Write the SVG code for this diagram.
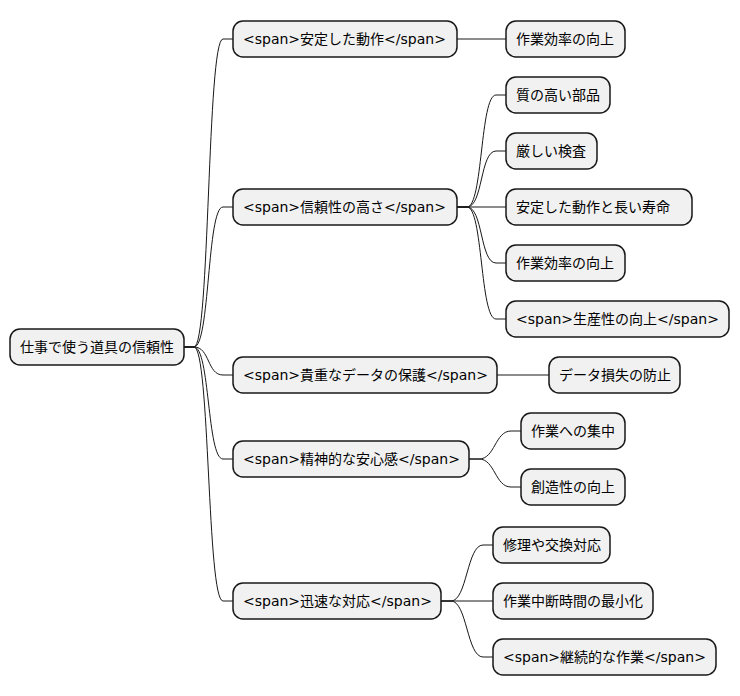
<svg xmlns="http://www.w3.org/2000/svg" width="740" height="696" viewBox="0 0 740 696">
<style>
.b{fill:#f1f1f1;stroke:#181818;stroke-width:1.5}
text{font-family:"DejaVu Sans","Noto Sans CJK JP",sans-serif;font-size:14px;fill:#000;dominant-baseline:central}
#c path{fill:none;stroke:#181818;stroke-width:1}
</style>
<rect width="740" height="696" fill="#ffffff"/>
<g id="c">
<path d="M184,347 H194 C210,347 207,39 223,39 H233"/>
<path d="M184,347 H194 C210,347 207,207 223,207 H233"/>
<path d="M184,347 H194 C210,347 207,375 223,375 H233"/>
<path d="M184,347 H194 C210,347 207,459 223,459 H233"/>
<path d="M184,347 H194 C210,347 207,601 223,601 H233"/>
<path d="M457,39 H506"/>
<path d="M457,207 H467 C483,207 480,95 496,95 H506"/>
<path d="M457,207 H467 C483,207 480,151 496,151 H506"/>
<path d="M457,207 H506"/>
<path d="M457,207 H467 C483,207 480,263 496,263 H506"/>
<path d="M457,207 H467 C483,207 480,319 496,319 H506"/>
<path d="M497,375 H549"/>
<path d="M469,459 H479 C495,459 495,431 511,431 H521"/>
<path d="M469,459 H479 C495,459 495,487 511,487 H521"/>
<path d="M441,601 H451 C467,601 467,545 483,545 H493"/>
<path d="M441,601 H493"/>
<path d="M441,601 H451 C467,601 467,657 483,657 H493"/>
</g>
<g id="root"><rect class="b" x="10" y="329" width="174" height="36" rx="10"/><text x="20" y="347">仕事で使う道具の信頼性</text></g>
<g id="n1"><rect class="b" x="233" y="21" width="224" height="36" rx="10"/><text x="243" y="39">&lt;span&gt;安定した動作&lt;/span&gt;</text></g>
<g id="n2"><rect class="b" x="233" y="189" width="224" height="36" rx="10"/><text x="243" y="207">&lt;span&gt;信頼性の高さ&lt;/span&gt;</text></g>
<g id="n3"><rect class="b" x="233" y="357" width="264" height="36" rx="10"/><text x="243" y="375">&lt;span&gt;貴重なデータの保護&lt;/span&gt;</text></g>
<g id="n4"><rect class="b" x="233" y="441" width="236" height="36" rx="10"/><text x="243" y="459">&lt;span&gt;精神的な安心感&lt;/span&gt;</text></g>
<g id="n5"><rect class="b" x="233" y="583" width="208" height="36" rx="10"/><text x="243" y="601">&lt;span&gt;迅速な対応&lt;/span&gt;</text></g>
<g id="n1a"><rect class="b" x="506" y="21" width="119" height="36" rx="10"/><text x="516" y="39">作業効率の向上</text></g>
<g id="n2a"><rect class="b" x="506" y="77" width="104" height="36" rx="10"/><text x="516" y="95">質の高い部品</text></g>
<g id="n2b"><rect class="b" x="506" y="133" width="91" height="36" rx="10"/><text x="516" y="151">厳しい検査</text></g>
<g id="n2c"><rect class="b" x="506" y="189" width="186" height="36" rx="10"/><text x="516" y="207">安定した動作と長い寿命</text></g>
<g id="n2d"><rect class="b" x="506" y="245" width="119" height="36" rx="10"/><text x="516" y="263">作業効率の向上</text></g>
<g id="n2e"><rect class="b" x="506" y="301" width="223" height="36" rx="10"/><text x="516" y="319">&lt;span&gt;生産性の向上&lt;/span&gt;</text></g>
<g id="n3a"><rect class="b" x="549" y="357" width="131" height="36" rx="10"/><text x="559" y="375">データ損失の防止</text></g>
<g id="n4a"><rect class="b" x="521" y="413" width="104" height="36" rx="10"/><text x="531" y="431">作業への集中</text></g>
<g id="n4b"><rect class="b" x="521" y="469" width="104" height="36" rx="10"/><text x="531" y="487">創造性の向上</text></g>
<g id="n5a"><rect class="b" x="493" y="527" width="117" height="36" rx="10"/><text x="503" y="545">修理や交換対応</text></g>
<g id="n5b"><rect class="b" x="493" y="583" width="160" height="36" rx="10"/><text x="503" y="601">作業中断時間の最小化</text></g>
<g id="n5c"><rect class="b" x="493" y="639" width="223" height="36" rx="10"/><text x="503" y="657">&lt;span&gt;継続的な作業&lt;/span&gt;</text></g>
</svg>
